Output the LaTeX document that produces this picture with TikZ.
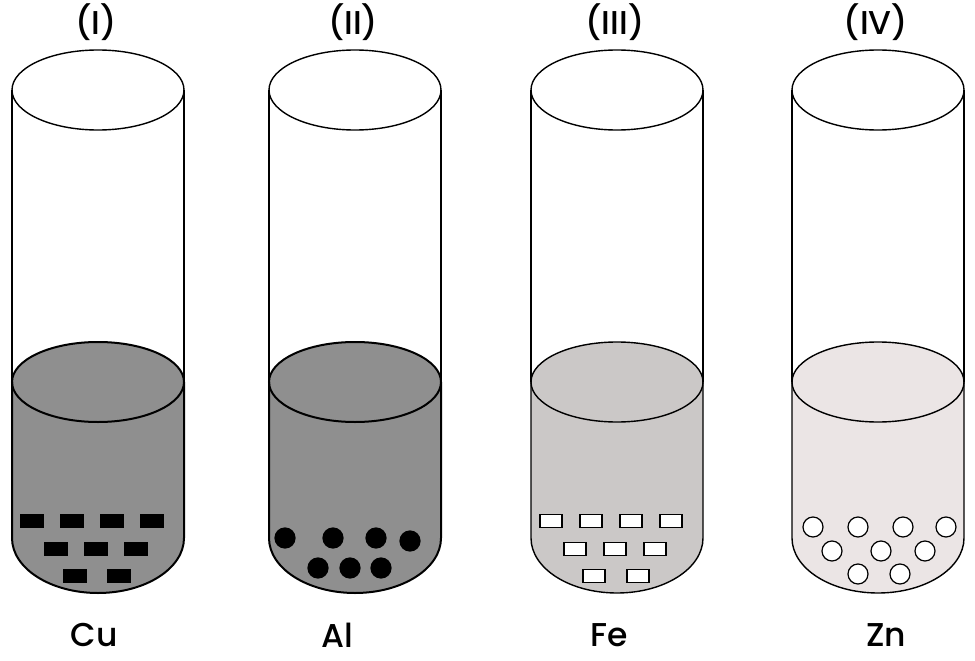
\documentclass[tikz,border=0pt]{standalone}
\usepackage{fontspec}
\setmainfont{Poppins}[UprightFont={* Medium}]
\begin{document}
\begin{tikzpicture}[x=1pt,y=-1pt,
  lbl/.style={font=\fontsize{33}{35}\selectfont},
  bar/.style={draw=black,line width=1.2,minimum width=22pt,minimum height=13pt,inner sep=0pt},
  ball/.style={circle,draw=black,line width=1.2,minimum size=20pt,inner sep=0pt}]
\useasboundingbox (0,0) rectangle (975,661);
% tubes: centre / liquid colour / line width / top label / bottom label
\definecolor{liqA}{HTML}{8F8F8F}
\definecolor{liqB}{HTML}{CBC8C7}
\definecolor{liqC}{HTML}{EBE5E5}
\foreach \cx/\col/\lw/\num/\metal/\mx in {98/liqA/2/I/Cu/94, 355/liqA/2/II/Al/337, 617/liqB/1.4/III/Fe/609, 878/liqC/1.4/IV/Zn/886}{
  \fill[\col] (\cx-86,382) -- (\cx-86,538) arc[start angle=180,end angle=0,x radius=86,y radius=55] -- (\cx+86,382) arc[start angle=0,end angle=180,x radius=86,y radius=-40] -- cycle;
  \draw[line width=\lw] (\cx-86,382) -- (\cx-86,538) arc[start angle=180,end angle=0,x radius=86,y radius=55] -- (\cx+86,382);
  \draw[line width=\lw] (\cx,382) ellipse[x radius=86,y radius=40];
  \draw[line width=1.4] (\cx-86,90) -- (\cx-86,382) (\cx+86,90) -- (\cx+86,382);
  \draw[line width=1.4] (\cx,90) ellipse[x radius=86,y radius=40];
  \node[lbl] (top\num) at (\cx-2,22) {(\num)};
  \node[lbl] (name\num) at (\mx,635) {\metal};
}
% particles
\foreach \px/\py in {32/521,72/521,112/521,152/521,56/549,96/549,136/549,75/576,119/576}
  \node[bar,fill=black] (cu\px\py) at (\px,\py) {};
\foreach \px/\py in {285/538,333/538,376/538,410/541,318/568,350/568,381/568}
  \node[ball,fill=black] (al\px\py) at (\px,\py) {};
\foreach \px/\py in {551/521,591/521,631/521,671/521,575/549,615/549,655/549,594/576,638/576}
  \node[bar,fill=white] (fe\px\py) at (\px,\py) {};
\foreach \px/\py in {813/527,858/527,903/527,946/527,832/551,881/551,925/551,858/574,900/574}
  \node[ball,fill=white] (zn\px\py) at (\px,\py) {};
\end{tikzpicture}
\end{document}
